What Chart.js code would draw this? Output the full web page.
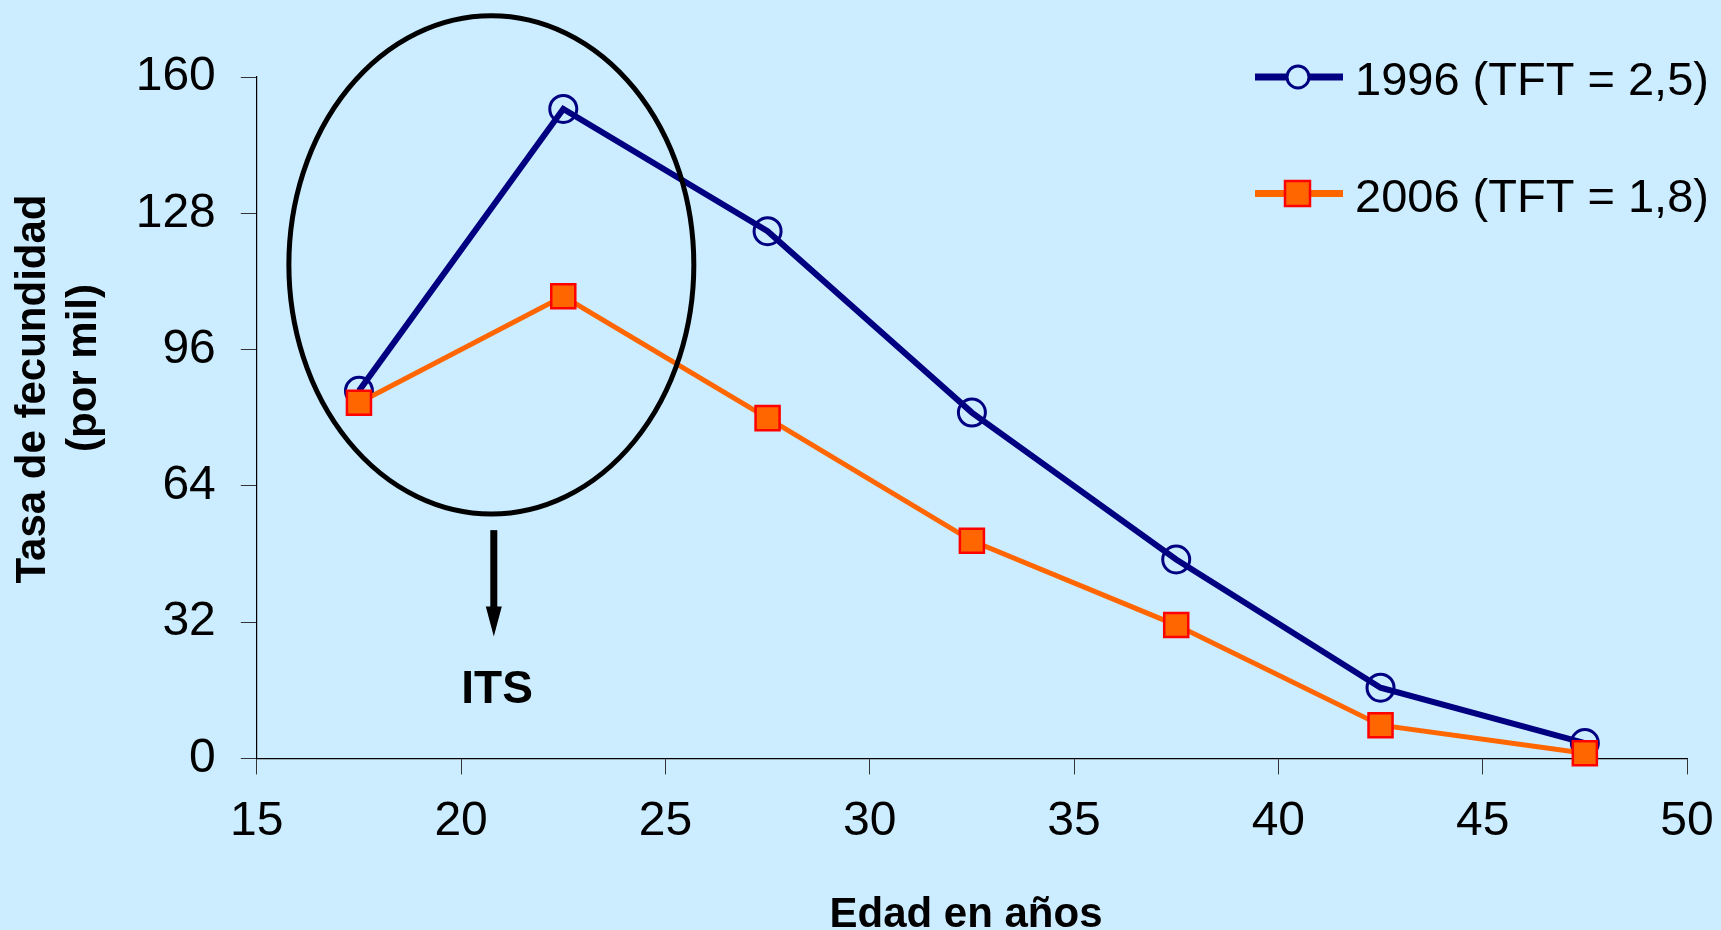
<!DOCTYPE html>
<html>
<head>
<meta charset="utf-8">
<script src="https://cdn.jsdelivr.net/npm/chart.js@4.4.0/dist/chart.umd.min.js"></script>
<style>
  html, body { margin: 0; padding: 0; background: #CCECFF; }
  #wrap { width: 1721px; height: 930px; position: relative; }
</style>
</head>
<body>
<div id="wrap"><canvas id="chart"></canvas></div>
<script>
const ages = [17.5, 22.5, 27.5, 32.5, 37.5, 42.5, 47.5];
const rates1996 = [86.3, 152.5, 123.8, 81.2, 46.7, 16.6, 3.6];
const rates2006 = [83.5, 108.5, 79.9, 51.1, 31.3, 7.8, 1.2];
const seriesNames = ['1996 (TFT = 2,5)', '2006 (TFT = 1,8)'];
const xTicks = [15, 20, 25, 30, 35, 40, 45, 50];
const yTicks = [0, 32, 64, 96, 128, 160];
const xTitle = 'Edad en años';
const yTitle = ['Tasa de fecundidad', '(por mil)'];
const noteText = 'ITS';

const FONT = '"Liberation Sans", Arial, sans-serif';
const BG = '#CCECFF';
const NAVY = '#000080';
const ORANGE = '#FF6600';

// background, ellipse + arrow note, axis titles and legend
const extras = {
  id: 'extras',
  beforeDraw(chart) {
    const ctx = chart.ctx;
    ctx.save();
    ctx.fillStyle = BG;
    ctx.fillRect(0, 0, chart.width, chart.height);
    ctx.restore();
  },
  afterDraw(chart) {
    const { ctx, scales: { x, y } } = chart;
    ctx.save();

    // ellipse round the young ages
    const cx = x.getPixelForValue(20.74), cy = y.getPixelForValue(115.9);
    const rx = x.getPixelForValue(20.74 + 4.955) - cx;
    const ry = cy - y.getPixelForValue(115.9 + 58.5);
    ctx.strokeStyle = '#000';
    ctx.lineWidth = 5;
    ctx.beginPath();
    ctx.ellipse(cx, cy, rx, ry, 0, 0, Math.PI * 2);
    ctx.stroke();

    // arrow down to ITS
    const ax = x.getPixelForValue(20.8);
    const ay1 = y.getPixelForValue(53.6), ay2 = y.getPixelForValue(28.6);
    ctx.fillStyle = '#000';
    ctx.lineWidth = 7;
    ctx.beginPath();
    ctx.moveTo(ax, ay1);
    ctx.lineTo(ax, ay2 - 26);
    ctx.stroke();
    ctx.beginPath();
    ctx.moveTo(ax - 8, ay2 - 30);
    ctx.lineTo(ax + 8, ay2 - 30);
    ctx.lineTo(ax, ay2);
    ctx.closePath();
    ctx.fill();

    ctx.font = 'bold 46px ' + FONT;
    ctx.textAlign = 'center';
    ctx.textBaseline = 'middle';
    ctx.fillText(noteText, x.getPixelForValue(20.88), y.getPixelForValue(16));

    // axis titles
    ctx.font = 'bold 42px ' + FONT;
    ctx.textBaseline = 'alphabetic';
    ctx.fillText(xTitle, 966, 927);
    const yPos = [[45, 389], [96, 368]];
    yTitle.forEach((t, i) => {
      ctx.save();
      ctx.translate(yPos[i][0], yPos[i][1]);
      ctx.rotate(-Math.PI / 2);
      ctx.fillText(t, 0, 0);
      ctx.restore();
    });

    // legend
    ctx.lineWidth = 7;
    ctx.strokeStyle = NAVY;
    ctx.beginPath(); ctx.moveTo(1255, 77); ctx.lineTo(1343, 77); ctx.stroke();
    ctx.beginPath(); ctx.arc(1298, 77, 11, 0, Math.PI * 2);
    ctx.fillStyle = BG; ctx.fill();
    ctx.lineWidth = 3; ctx.stroke();

    ctx.lineWidth = 7;
    ctx.strokeStyle = ORANGE;
    ctx.beginPath(); ctx.moveTo(1255, 193.5); ctx.lineTo(1343, 193.5); ctx.stroke();
    ctx.fillStyle = ORANGE;
    ctx.fillRect(1285, 181, 25, 25);
    ctx.strokeStyle = '#FF0000';
    ctx.lineWidth = 2.5;
    ctx.strokeRect(1285, 181, 25, 25);

    ctx.fillStyle = '#000';
    ctx.font = '47px ' + FONT;
    ctx.textAlign = 'left';
    ctx.fillText(seriesNames[0], 1355, 95);
    ctx.fillText(seriesNames[1], 1355, 211.5);

    ctx.restore();
  }
};

new Chart(document.getElementById('chart'), {
  type: 'line',
  data: {
    datasets: [
      {
        label: seriesNames[0],
        data: ages.map((a, i) => ({ x: a, y: rates1996[i] })),
        borderColor: NAVY,
        borderWidth: 6,
        pointStyle: 'circle',
        pointRadius: 13.5,
        pointBorderWidth: 3,
        pointBorderColor: NAVY,
        pointBackgroundColor: 'rgba(0,0,0,0)',
        tension: 0,
        order: 1,
        clip: false
      },
      {
        label: seriesNames[1],
        data: ages.map((a, i) => ({ x: a, y: rates2006[i] })),
        borderColor: ORANGE,
        borderWidth: 5,
        pointStyle: 'rect',
        pointRadius: 17,
        pointBorderWidth: 2.5,
        pointBorderColor: '#FF0000',
        pointBackgroundColor: ORANGE,
        tension: 0,
        order: 0,
        clip: false
      }
    ]
  },
  options: {
    responsive: true,
    maintainAspectRatio: false,
    animation: false,
    layout: { padding: { left: 0, top: 77, right: 34, bottom: 0 } },
    plugins: {
      legend: { display: false },
      tooltip: { enabled: false }
    },
    scales: {
      x: {
        type: 'linear',
        min: 15,
        max: 50,
        afterBuildTicks: s => { s.ticks = xTicks.map(v => ({ value: v })); },
        afterFit: s => { s.height = 171.6; s.paddingLeft = 0; s.paddingRight = 0; },
        ticks: { color: '#000', font: { size: 48, family: FONT }, padding: 19, maxRotation: 0, autoSkip: false },
        grid: { drawOnChartArea: false, drawTicks: true, tickLength: 16, color: '#333', lineWidth: 1 },
        border: { color: '#000', width: 1.2 }
      },
      y: {
        min: 0,
        max: 160,
        afterBuildTicks: s => { s.ticks = yTicks.map(v => ({ value: v })); },
        afterFit: s => { s.width = 256.8; s.paddingTop = 0; s.paddingBottom = 0; },
        ticks: { color: '#000', font: { size: 48, family: FONT }, padding: 25, autoSkip: false },
        grid: { drawOnChartArea: false, drawTicks: true, tickLength: 16, color: '#333', lineWidth: 1 },
        border: { color: '#000', width: 1.2 }
      }
    }
  },
  plugins: [extras]
});
</script>
</body>
</html>
